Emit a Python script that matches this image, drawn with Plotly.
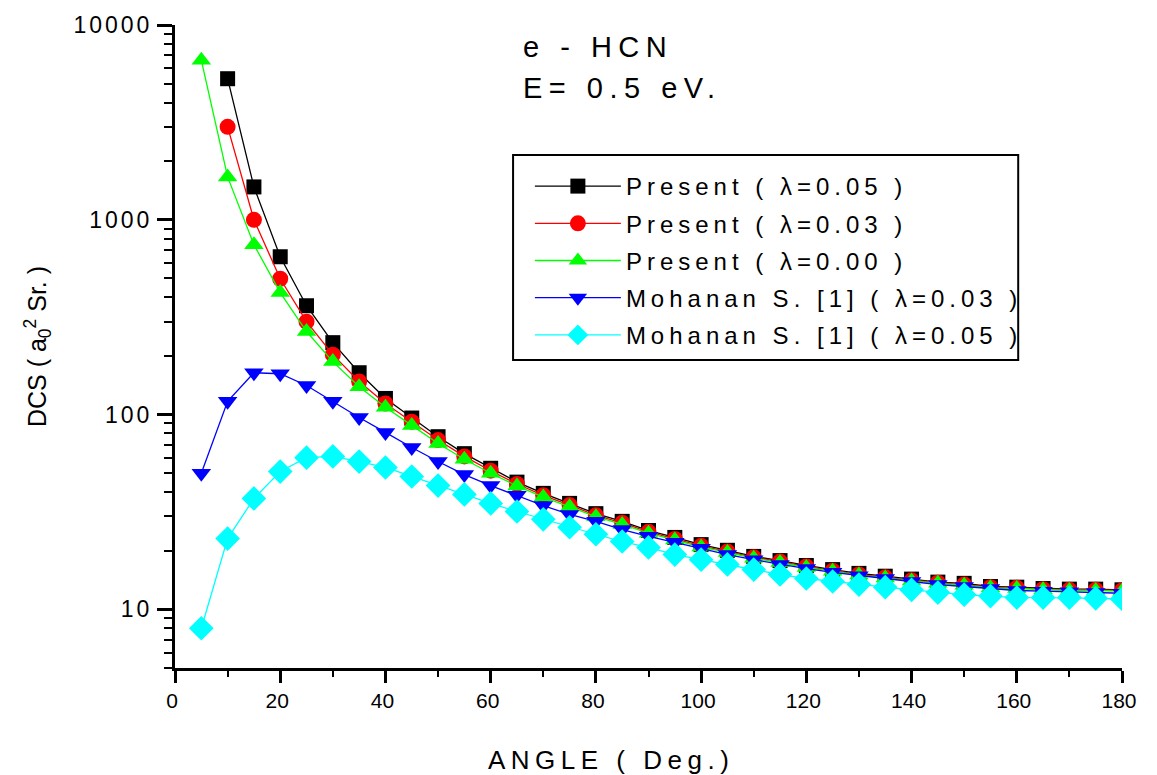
import plotly.graph_objects as go

# ---- data ----
angles_10 = list(range(10, 181, 5))   # 10..180
angles_5 = list(range(5, 181, 5))     # 5..180

present_005 = [5300, 1475, 646, 362, 234, 164, 121, 96, 77, 63, 53, 45, 39.4, 35, 31, 28.3,
               25.4, 23.4, 21.5, 20.1, 18.7, 17.8, 16.8, 16.0, 15.3, 14.8, 14.3, 13.8, 13.6,
               13.1, 13.0, 12.8, 12.7, 12.7, 12.6]
present_003 = [3000, 1000, 498, 300, 203, 148, 114, 92, 74, 61, 51.5, 44, 38.5, 34.3, 30.4, 27.8,
               25.0, 23.0, 21.2, 19.8, 18.5, 17.6, 16.6, 15.8, 15.1, 14.6, 14.1, 13.7, 13.4,
               13.0, 12.9, 12.7, 12.6, 12.6, 12.5]
present_000 = [6600, 1660, 745, 423, 267, 187, 139, 109, 88, 71, 59, 50, 43, 37.7, 33.6, 29.9,
               27.3, 24.6, 22.7, 20.9, 19.6, 18.3, 17.4, 16.4, 15.7, 15.0, 14.5, 14.0, 13.6,
               13.3, 12.9, 12.8, 12.6, 12.5, 12.5, 12.4]
mohanan_003 = [50, 117, 164, 162, 141, 117, 96.6, 81, 67.8, 57.4, 49.2, 43.2, 38.5, 34.1, 30.7,
               28.3, 25.7, 23.7, 22.1, 20.6, 19.1, 18.0, 17.0, 16.2, 15.5, 14.9, 14.4, 13.9,
               13.4, 13.1, 12.8, 12.5, 12.4, 12.3, 12.2, 12.1]
mohanan_005 = [8.0, 23.1, 37.1, 51, 60.1, 61, 57.4, 53.5, 48.1, 43.2, 38.9, 35.0, 31.8, 29.0,
               26.4, 24.3, 22.3, 20.8, 19.1, 18.0, 17.0, 16.0, 15.1, 14.4, 13.9, 13.4, 13.0,
               12.6, 12.2, 11.9, 11.7, 11.5, 11.5, 11.5, 11.4, 11.3]

names = ["Present ( \u03bb=0.05 )", "Present ( \u03bb=0.03 )", "Present ( \u03bb=0.00 )",
         "Mohanan S. [1] ( \u03bb=0.03 )", "Mohanan S. [1] ( \u03bb=0.05 )"]

FONT = "Liberation Sans, Arial, sans-serif"

def spaced(t, ls):
    return f'<span style="letter-spacing:{ls}px">{t}</span>'

series = [
    (angles_10, present_005, names[0], "#000000", "square", 15),
    (angles_10, present_003, names[1], "#FF0000", "circle", 16),
    (angles_5, present_000, names[2], "#00FF00", "triangle-up", 17),
    (angles_5, mohanan_003, names[3], "#0000FF", "triangle-down", 17),
    (angles_5, mohanan_005, names[4], "#00FFFF", "diamond", 19),
]

fig = go.Figure()
for i, (xs, ys, nm, col, sym, sz) in enumerate(series):
    fig.add_trace(go.Scatter(
        x=xs, y=ys, mode="lines+markers", name=spaced(nm, 5),
        legendgroup=f"g{i}",
        line=dict(color=col, width=1.3),
        marker=dict(symbol=sym, size=sz, color=col, line=dict(width=0)),
    ))

# plot area in page pixels
W, H = 1149, 775
PL, PT, PB = 175, 25, 668
PR = 1133
R = W - PR

def xp(px):
    return (px - PL) / (PR - PL)

def yp(py):
    return (PB - py) / (PB - PT)

fig.update_layout(
    width=W, height=H,
    margin=dict(l=PL, r=R, t=PT, b=H - PB),
    paper_bgcolor="white", plot_bgcolor="white",
    font=dict(family=FONT, color="black", size=22),
    showlegend=True,
    legend=dict(
        x=xp(534), y=yp(164), xanchor="left", yanchor="top",
        borderwidth=0, bgcolor="rgba(0,0,0,0)",
        font=dict(family=FONT, size=24, color="black"),
        itemwidth=86, tracegroupgap=3,
    ),
    shapes=[
        dict(type="rect", xref="paper", yref="paper",
             x0=xp(517), x1=xp(1028), y0=yp(360), y1=yp(155),
             line=dict(color="black", width=2), fillcolor="rgba(0,0,0,0)", layer="above"),
    ],
    xaxis=dict(
        range=[0, 180], tickvals=list(range(0, 181, 20)),
        showline=True, linecolor="black", linewidth=3,
        ticks="outside", ticklen=12, tickwidth=3, tickcolor="black",
        minor=dict(ticks="outside", ticklen=6, tickwidth=2, tickcolor="black", dtick=10),
        showgrid=False, zeroline=False,
        tickfont=dict(family=FONT, size=21),
        ticklabelshift=-3,
    ),
    yaxis=dict(
        type="log", range=[0.69897, 4.0],
        tickvals=[10, 100, 1000, 10000],
        ticktext=[spaced("10", 3), spaced("100", 3), spaced("1000", 3), spaced("10000", 3)],
        showline=True, linecolor="black", linewidth=3,
        ticks="outside", ticklen=15, tickwidth=3, tickcolor="black",
        minor=dict(ticks="outside", ticklen=8, tickwidth=2, tickcolor="black", dtick="D1"),
        showgrid=False, zeroline=False,
        tickfont=dict(family=FONT, size=23),
        title=dict(text="DCS ( a<sub>0</sub><sup>2</sup> Sr. )", font=dict(family=FONT, size=25), standoff=20),
    ),
    annotations=[
        dict(text=spaced("e - HCN", 6.5), xref="paper", yref="paper",
             x=xp(525), y=yp(47), xanchor="left", yanchor="middle",
             showarrow=False, font=dict(family=FONT, size=29)),
        dict(text=spaced("E= 0.5 eV.", 6.5), xref="paper", yref="paper",
             x=xp(525), y=yp(88), xanchor="left", yanchor="middle",
             showarrow=False, font=dict(family=FONT, size=29)),
        dict(text=spaced("ANGLE ( Deg.)", 5.5), xref="paper", yref="paper",
             x=xp(616), y=yp(760), xanchor="center", yanchor="middle",
             showarrow=False, font=dict(family=FONT, size=26)),
    ],
)

fig.write_html(
    "out.html", config={"displayModeBar": False},
    post_script="document.body.style.margin='0';document.body.style.overflow='hidden';",
)
